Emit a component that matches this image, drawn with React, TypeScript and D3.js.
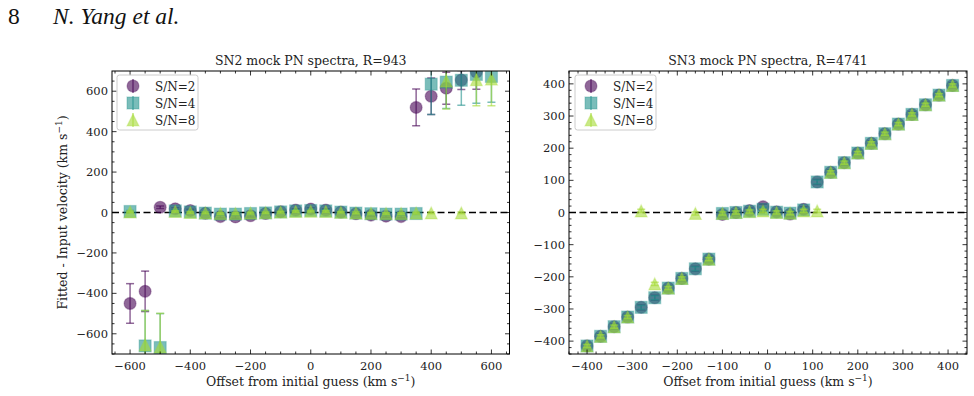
import React from 'react';
import * as d3 from 'd3';

// Left panel: SN2 mock spectra, offsets every 50 km/s
const leftOffsets = [-600, -550, -500, -450, -400, -350, -300, -250, -200, -150, -100, -50, 0, 50, 100, 150, 200, 250, 300, 350, 400, 450, 500, 550, 600];
const leftSN2 = [-450, -390, 26, 18, 10, -4, -20, -22, -16, -5, 4, 12, 17, 12, 2, -6, -13, -18, -20, 520, 575, 615, 655, 695, null];
const leftSN2Err = [98, 100, 6, 6, 6, 6, 6, 6, 6, 6, 6, 6, 6, 6, 6, 6, 6, 6, 6, 91, 90, 79, 47, 85, 0];
const leftSN4 = [5, -660, -668, 8, 3, -3, -8, -8, -5, -2, 3, 8, 10, 8, 2, -3, -6, -8, -8, -5, 635, 645, 654, 683, 673];
const leftSN4Err = [5, 175, 168, 5, 5, 5, 5, 5, 5, 5, 5, 5, 5, 5, 5, 5, 5, 5, 5, 5, 150, 130, 123, 142, 128];
const leftSN8 = [3, -655, -665, 5, 0, -2, -5, -5, -3, -1, 2, 5, 6, 5, 1, -2, -4, -5, -5, -3, -2, 650, -2, 657, 660];
const leftSN8Err = [4, 170, 166, 4, 4, 4, 4, 4, 4, 4, 4, 4, 4, 4, 4, 4, 4, 4, 4, 4, 4, 138, 4, 129, 132];

// Right panel: SN3 mock spectra, offsets every 30 km/s
const rightOffsets = [-400, -370, -340, -310, -280, -250, -220, -190, -160, -130, -100, -70, -40, -10, 20, 50, 80, 110, 140, 170, 200, 230, 260, 290, 320, 350, 380, 410];
const rightSN2 = [-415, -385, -355, -325, -295, -265, -235, -205, -175, -145, -6, 0, 6, 18, 2, -5, 10, 95, 125, 155, 185, 215, 245, 275, 305, 335, 365, 395];
const rightSN4 = [-415, -385, -355, -325, -295, -265, -235, -205, -175, -145, -3, 0, 4, 10, 1, -2, 8, 95, 125, 155, 185, 215, 245, 275, 305, 335, 365, 395];
const rightSN8 = [-415, -385, -355, -325, 5, -222, -235, -205, -3, -145, -3, 0, 3, 5, 0, -2, 5, 5, 125, 155, 185, 215, 245, 275, 305, 335, 365, 395];
const rightSN2Err = rightOffsets.map(() => 8);
const rightSN4Err = rightOffsets.map(() => 6);
const rightSN8Err = rightOffsets.map(() => 5);

const seriesNames = ['S/N=2', 'S/N=4', 'S/N=8'];
const seriesColors = ['#440154', '#21918c', '#a5db36'];
const seriesShapes = ['circle', 'square', 'triangle'];

const ALPHA = 0.6;
const MS = 12;
const FONT = "'DejaVu Serif', serif";

type Series = { name: string; color: string; shape: string; y: (number | null)[]; err: number[] };

const minus = (v: number) => (v < 0 ? '\u2212' + Math.abs(v) : String(v));

// filled marker with a thin edge of the same colour, like matplotlib's default
const Marker: React.FC<{ shape: string; cx: number; cy: number; color: string; size: number }> = ({ shape, cx, cy, color, size }) => {
  const h = size / 2;
  const style = { fill: color, fillOpacity: ALPHA, stroke: color, strokeOpacity: ALPHA * 0.5, strokeWidth: 1.2 };
  if (shape === 'circle') return <circle cx={cx} cy={cy} r={h} style={style} />;
  if (shape === 'square') return <rect x={cx - h} y={cy - h} width={size} height={size} style={style} />;
  return <path d={`M${cx},${cy - h}L${cx - h},${cy + h}L${cx + h},${cy + h}Z`} style={style} />;
};

interface PanelProps {
  title: string;
  x0: number; x1: number; y0: number; y1: number;
  xDomain: [number, number]; yDomain: [number, number];
  xMajor: number; xMinor: number; yMajor: number; yMinor: number;
  xTickMax: number; yTickMax: number;
  offsets: number[];
  series: Series[];
  legendX: number;
  clipId: string;
  yLabel?: string;
}

const Panel: React.FC<PanelProps> = (p) => {
  const x = d3.scaleLinear().domain(p.xDomain).range([p.x0, p.x1]);
  const y = d3.scaleLinear().domain(p.yDomain).range([p.y1, p.y0]);
  const xMaj = d3.range(-p.xTickMax, p.xTickMax + 1, p.xMajor);
  const yMaj = d3.range(-p.yTickMax, p.yTickMax + 1, p.yMajor);
  const xMin = d3.range(Math.ceil(p.xDomain[0] / p.xMinor) * p.xMinor, p.xDomain[1], p.xMinor).filter(v => v % p.xMajor !== 0);
  const yMin = d3.range(Math.ceil(p.yDomain[0] / p.yMinor) * p.yMinor, p.yDomain[1], p.yMinor).filter(v => v % p.yMajor !== 0);
  const cx = (p.x0 + p.x1) / 2;
  const cy = (p.y0 + p.y1) / 2;
  const majL = 4.5, minL = 2.5;

  return (
    <g>
      <defs>
        <clipPath id={p.clipId}>
          <rect x={p.x0} y={p.y0} width={p.x1 - p.x0} height={p.y1 - p.y0} />
        </clipPath>
      </defs>
      <text x={cx} y={65} textAnchor="middle" fontSize={12.5} fontFamily={FONT} fill="#222">{p.title}</text>

      {/* zero reference */}
      <line x1={p.x0} x2={p.x1} y1={y(0)} y2={y(0)} stroke="#000" strokeWidth={1.5} strokeDasharray="7,3.5" />

      {/* error bars and markers, series by series */}
      <g clipPath={`url(#${p.clipId})`}>
        {p.series.map((s, si) => (
          <g key={si}>
            {p.offsets.map((o, i) => {
              const v = s.y[i];
              if (v === null || s.err[i] <= 0) return null;
              const px = x(o), top = y(v + s.err[i]), bot = y(v - s.err[i]);
              return (
                <g key={i} stroke={s.color} strokeOpacity={ALPHA} strokeWidth={1.5}>
                  <line x1={px} x2={px} y1={top} y2={bot} />
                  <line x1={px - 4} x2={px + 4} y1={top} y2={top} />
                  <line x1={px - 4} x2={px + 4} y1={bot} y2={bot} />
                </g>
              );
            })}
            {p.offsets.map((o, i) => {
              const v = s.y[i];
              if (v === null) return null;
              return <Marker key={i} shape={s.shape} cx={x(o)} cy={y(v)} color={s.color} size={MS} />;
            })}
          </g>
        ))}
      </g>

      {/* ticks, inward on all four sides */}
      <g stroke="#000" strokeWidth={0.8}>
        {xMaj.map(v => (
          <g key={'xM' + v}>
            <line x1={x(v)} x2={x(v)} y1={p.y1} y2={p.y1 - majL} />
            <line x1={x(v)} x2={x(v)} y1={p.y0} y2={p.y0 + majL} />
          </g>
        ))}
        {xMin.map(v => (
          <g key={'xm' + v}>
            <line x1={x(v)} x2={x(v)} y1={p.y1} y2={p.y1 - minL} />
            <line x1={x(v)} x2={x(v)} y1={p.y0} y2={p.y0 + minL} />
          </g>
        ))}
        {yMaj.map(v => (
          <g key={'yM' + v}>
            <line x1={p.x0} x2={p.x0 + majL} y1={y(v)} y2={y(v)} />
            <line x1={p.x1} x2={p.x1 - majL} y1={y(v)} y2={y(v)} />
          </g>
        ))}
        {yMin.map(v => (
          <g key={'ym' + v}>
            <line x1={p.x0} x2={p.x0 + minL} y1={y(v)} y2={y(v)} />
            <line x1={p.x1} x2={p.x1 - minL} y1={y(v)} y2={y(v)} />
          </g>
        ))}
      </g>
      <rect x={p.x0} y={p.y0} width={p.x1 - p.x0} height={p.y1 - p.y0} fill="none" stroke="#000" strokeWidth={1} />

      <g fontFamily={FONT} fontSize={11.5} fill="#222">
        {xMaj.map(v => (
          <text key={'xl' + v} x={x(v)} y={p.y1 + 16} textAnchor="middle">{minus(v)}</text>
        ))}
        {yMaj.map(v => (
          <text key={'yl' + v} x={p.x0 - 4} y={y(v) + 4} textAnchor="end">{minus(v)}</text>
        ))}
      </g>

      <text x={cx} y={386} textAnchor="middle" fontFamily={FONT} fontSize={12.5} fill="#222">
        Offset from initial guess (km s<tspan dy={-5} fontSize={9}>{'\u22121'}</tspan><tspan dy={5}>)</tspan>
      </text>
      {p.yLabel && (
        <text transform={`translate(67,${cy}) rotate(-90)`} textAnchor="middle" fontFamily={FONT} fontSize={12.5} fill="#222">
          {p.yLabel} (km s<tspan dy={-5} fontSize={9}>{'\u22121'}</tspan><tspan dy={5}>)</tspan>
        </text>
      )}

      {/* legend */}
      <g>
        <rect x={p.legendX} y={p.y0 + 4} width={81} height={55} rx={2.5} fill="#fff" fillOpacity={0.8} stroke="#cccccc" strokeWidth={1} />
        {p.series.map((s, i) => {
          const ly = p.y0 + 15 + i * 17;
          const mx = p.legendX + 16;
          return (
            <g key={i}>
              <line x1={mx} x2={mx} y1={ly - 7} y2={ly + 7} stroke={s.color} strokeOpacity={ALPHA} strokeWidth={1.5} />
              <Marker shape={s.shape} cx={mx} cy={ly} color={s.color} size={MS} />
              <text x={p.legendX + 38} y={ly + 4.5} fontFamily={FONT} fontSize={12} fill="#222">{s.name}</text>
            </g>
          );
        })}
      </g>
    </g>
  );
};

const makeSeries = (ys: (number | null)[][], errs: number[][]): Series[] =>
  seriesNames.map((name, i) => ({ name, color: seriesColors[i], shape: seriesShapes[i], y: ys[i], err: errs[i] }));

export default function App() {
  const leftSeries = makeSeries([leftSN2, leftSN4, leftSN8], [leftSN2Err, leftSN4Err, leftSN8Err]);
  const rightSeries = makeSeries([rightSN2, rightSN4, rightSN8], [rightSN2Err, rightSN4Err, rightSN8Err]);
  return (
    <svg width={974} height={396} style={{ position: 'absolute', left: 0, top: 0, background: '#fff' }}>
      <text x={8} y={24} fontFamily="'Liberation Serif', serif" fontSize={23.5} fill="#111">8</text>
      <text x={53} y={24} fontFamily="'Liberation Serif', serif" fontSize={23.5} fontStyle="italic" fill="#111">N. Yang et al.</text>

      <Panel
        title="SN2 mock PN spectra, R=943"
        x0={112} x1={509.5} y0={71} y1={354}
        xDomain={[-660, 660]} yDomain={[-700, 700]}
        xMajor={200} xMinor={50} yMajor={200} yMinor={50}
        xTickMax={600} yTickMax={600}
        offsets={leftOffsets} series={leftSeries}
        legendX={117} clipId="clipL"
        yLabel="Fitted - Input velocity"
      />
      <Panel
        title="SN3 mock PN spectra, R=4741"
        x0={569} x1={967} y0={71} y1={354}
        xDomain={[-440, 442]} yDomain={[-440, 440]}
        xMajor={100} xMinor={20} yMajor={100} yMinor={20}
        xTickMax={400} yTickMax={400}
        offsets={rightOffsets} series={rightSeries}
        legendX={575} clipId="clipR"
      />
    </svg>
  );
}
